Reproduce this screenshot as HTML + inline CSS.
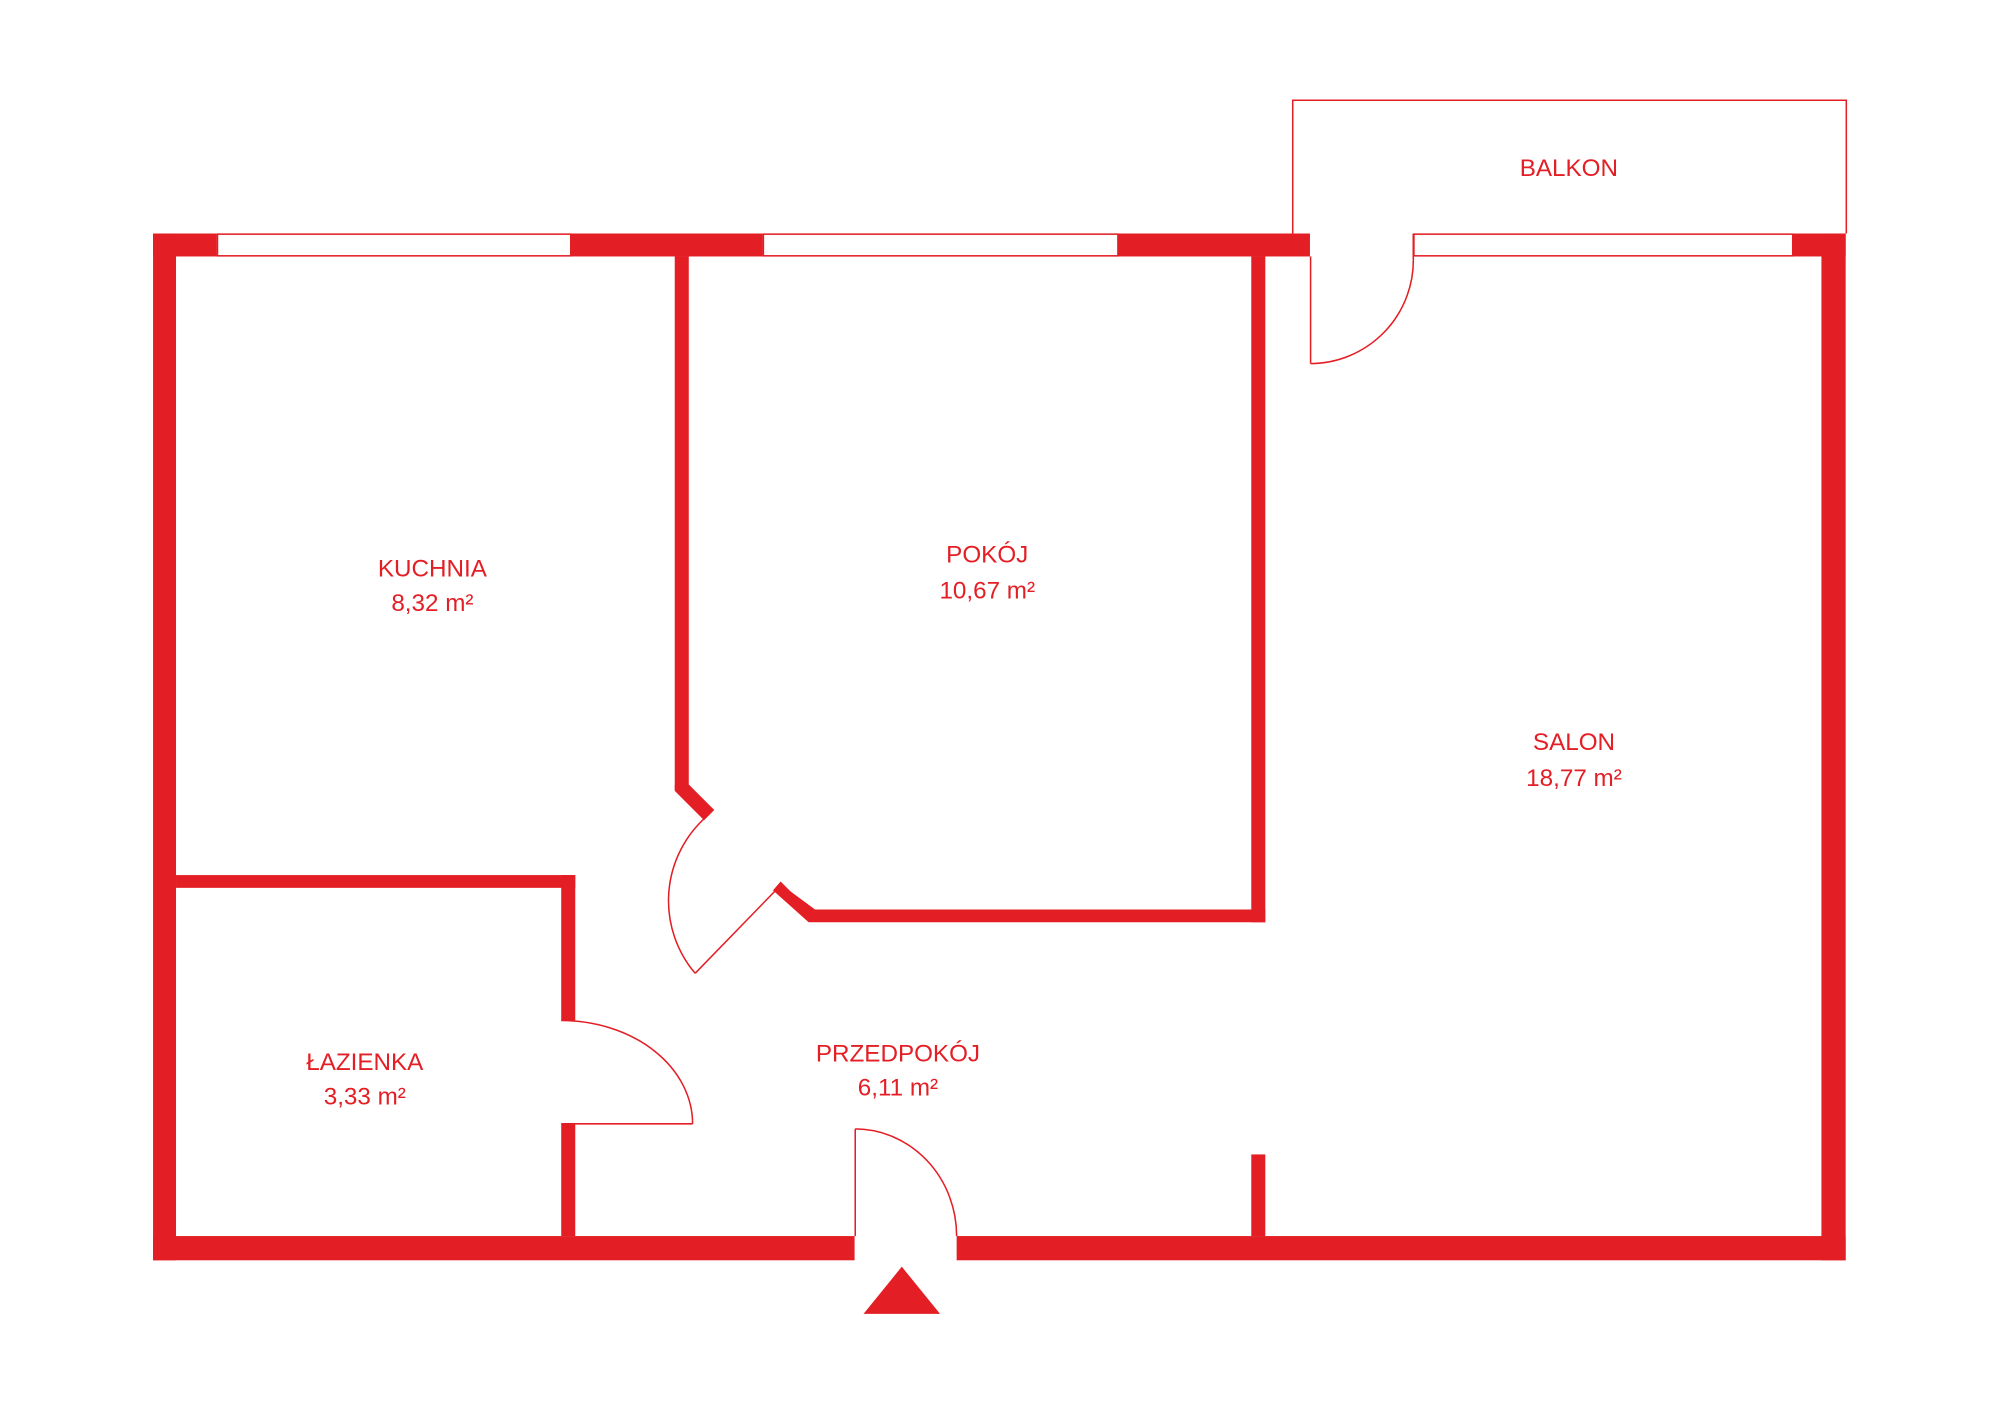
<!DOCTYPE html>
<html><head><meta charset="utf-8"><style>
html,body{margin:0;padding:0;background:#fff;}
svg{display:block;}
text{font-family:"Liberation Sans",sans-serif;font-size:19px;fill:#e31e24;text-anchor:middle;}
</style></head><body>
<svg width="2000" height="1416" viewBox="0 0 1568 1110" xmlns="http://www.w3.org/2000/svg">
<g fill="#e31e24" stroke="none">
<!-- outer walls -->
<rect x="120" y="183" width="18" height="805"/>
<rect x="1428" y="183" width="19" height="805"/>
<rect x="120" y="969" width="550" height="19"/>
<rect x="750" y="969" width="697" height="19"/>
<rect x="120" y="183" width="50" height="18"/>
<rect x="447" y="183" width="151" height="18"/>
<rect x="876" y="183" width="151" height="18"/>
<rect x="1405" y="183" width="42" height="18"/>
<!-- interior -->
<rect x="529" y="201" width="11" height="418"/>
<polygon points="529,615 540,615 560,635 552,643 529,620"/>
<polygon points="612,691 620,699 639,713 992,713 992,723 634,723 606,698"/>
<rect x="981" y="201" width="11" height="522"/>
<rect x="138" y="686" width="313" height="10"/>
<rect x="440" y="686" width="11" height="114"/>
<rect x="440" y="881" width="11" height="88"/>
<rect x="981" y="905" width="11" height="64"/>
<polygon points="677,1030 737,1030 707,993"/>
</g>
<g fill="none" stroke="#e31e24" stroke-width="1.2">
<rect x="170.5" y="183.5" width="277" height="17"/>
<rect x="598.5" y="183.5" width="278" height="17"/>
<rect x="1108.5" y="183.5" width="297" height="17"/>
<polyline points="1013.5,183 1013.5,78.5 1447.5,78.5 1447.5,183"/>
<line x1="1027.5" y1="201" x2="1027.5" y2="285"/>
<path d="M1027.5,285 A81,81 0 0 0 1108,201 L1108,183"/>
<line x1="612" y1="694" x2="545" y2="763"/>
<path d="M545,763 A88,88 0 0 1 554,640"/>
<line x1="440" y1="881" x2="543" y2="881"/>
<path d="M543,881 A103,81 0 0 0 440,800"/>
<line x1="670.5" y1="969" x2="670.5" y2="885"/>
<path d="M670.5,885 A80,84 0 0 1 750,969"/>
</g>
<text x="339" y="452">KUCHNIA</text>
<text x="339" y="479">8,32 m²</text>
<text x="774" y="441">POKÓJ</text>
<text x="774" y="469">10,67 m²</text>
<text x="1234" y="588">SALON</text>
<text x="1234" y="616">18,77 m²</text>
<text x="286" y="839">ŁAZIENKA</text>
<text x="286" y="866">3,33 m²</text>
<text x="704" y="832">PRZEDPOKÓJ</text>
<text x="704" y="859">6,11 m²</text>
<text x="1230" y="138">BALKON</text>
</svg>
</body></html>
